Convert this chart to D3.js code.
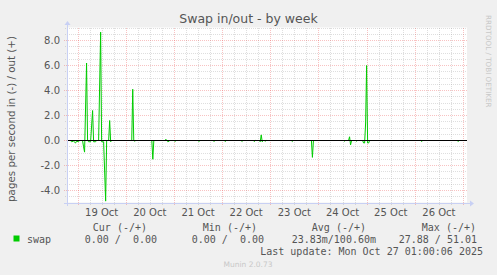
<!DOCTYPE html>
<html>
<head>
<meta charset="utf-8">
<script src="https://cdn.jsdelivr.net/npm/d3@7"></script>
<style>
  html, body { margin: 0; padding: 0; background: #f0f0f0; }
  svg { display: block; }
  text { font-family: "DejaVu Sans", sans-serif; fill: #555; }
  .mono { font-family: "DejaVu Sans Mono", monospace; font-size: 10px; white-space: pre; }
</style>
</head>
<body>
<div id="chart"></div>
<script>
// swap in (-) / out (+), pages per second, 30 min samples where it moved off zero
const swapTimes = [
  "2025-10-18T18:45", "2025-10-18T20:30", "2025-10-18T21:00", "2025-10-18T22:00", "2025-10-18T23:00",
  "2025-10-18T23:30", "2025-10-19T00:30", "2025-10-19T01:00", "2025-10-19T02:30", "2025-10-19T03:00",
  "2025-10-19T03:30", "2025-10-19T04:30", "2025-10-19T05:00", "2025-10-19T05:30", "2025-10-19T06:30",
  "2025-10-19T07:30", "2025-10-19T08:00", "2025-10-19T09:00", "2025-10-19T09:30", "2025-10-19T10:30",
  "2025-10-19T11:30", "2025-10-19T12:00", "2025-10-19T13:00", "2025-10-19T14:00", "2025-10-19T14:30",
  "2025-10-19T15:30", "2025-10-19T16:00", "2025-10-19T16:30", "2025-10-19T17:00", "2025-10-20T03:00",
  "2025-10-20T03:30", "2025-10-20T04:00", "2025-10-20T04:30", "2025-10-20T05:00", "2025-10-20T13:00",
  "2025-10-20T13:30", "2025-10-20T14:00", "2025-10-20T19:30", "2025-10-20T20:00", "2025-10-20T21:00",
  "2025-10-20T22:00", "2025-10-21T00:00", "2025-10-21T00:30", "2025-10-21T01:00", "2025-10-21T12:00",
  "2025-10-21T12:30", "2025-10-21T13:00", "2025-10-21T19:30", "2025-10-21T20:00", "2025-10-21T20:30",
  "2025-10-22T01:00", "2025-10-22T01:30", "2025-10-22T02:00", "2025-10-22T09:30", "2025-10-22T10:00",
  "2025-10-22T10:30", "2025-10-22T15:30", "2025-10-22T16:00", "2025-10-22T16:30", "2025-10-22T18:30",
  "2025-10-22T19:00", "2025-10-22T19:30", "2025-10-22T20:00", "2025-10-22T20:30", "2025-10-22T21:00",
  "2025-10-22T21:30", "2025-10-22T22:00", "2025-10-23T10:30", "2025-10-23T11:00", "2025-10-23T11:30",
  "2025-10-23T20:30", "2025-10-23T21:00", "2025-10-23T21:30", "2025-10-24T12:30", "2025-10-24T13:00",
  "2025-10-24T13:30", "2025-10-24T15:00", "2025-10-24T15:30", "2025-10-24T16:00", "2025-10-24T16:30",
  "2025-10-24T18:30", "2025-10-24T19:00", "2025-10-24T19:30", "2025-10-24T22:00", "2025-10-24T22:30",
  "2025-10-24T23:00", "2025-10-24T23:30", "2025-10-25T00:00", "2025-10-25T00:30", "2025-10-25T01:00",
  "2025-10-25T01:30", "2025-10-26T03:00", "2025-10-26T03:30", "2025-10-26T04:00", "2025-10-26T21:00",
  "2025-10-26T21:30", "2025-10-26T22:00", "2025-10-27T02:00"
];
const swapValues = [
  0, 0, -0.1, -0.05, -0.2,
  -0.05, -0.1, 0, 0, -0.5,
  -0.93, 6.2, 0, -0.1, -0.1,
  2.4, -0.1, -0.1, 0, 0,
  8.67, -0.1, -0.1, -4.85, 0,
  0, 1.6, -0.1, 0, 0,
  4.1, 0, -0.05, 0, 0,
  -1.5, 0, 0, 0.1, -0.1,
  0, 0, -0.08, 0, 0,
  -0.08, 0, 0, -0.08, 0,
  0, -0.08, 0, 0, -0.08,
  0, 0, -0.08, 0, 0,
  -0.1, 0.45, -0.1, 0, 0,
  -0.05, 0, 0, -0.08, 0,
  0, -1.35, 0, 0, -0.05,
  0, 0, 0.3, -0.35, 0,
  0, -0.05, 0, 0, -0.2,
  -0.2, 1.4, 6.0, -0.2, -0.2,
  0, 0, -0.08, 0, 0,
  -0.08, 0, 0
];

const yTicks = [-4, -2, 0, 2, 4, 6, 8];
const dayLabels = ["19 Oct", "20 Oct", "21 Oct", "22 Oct", "23 Oct", "24 Oct", "25 Oct", "26 Oct"];
const dayNoons = ["2025-10-19T12:00", "2025-10-20T12:00", "2025-10-21T12:00", "2025-10-22T12:00",
                  "2025-10-23T12:00", "2025-10-24T12:00", "2025-10-25T12:00", "2025-10-26T12:00"];

const legendHeaders = ["Cur (-/+)", "Min (-/+)", "Avg (-/+)", "Max (-/+)"];
const legendValues = ["0.00 /  0.00", "0.00 /  0.00", "23.83m/100.60m", "27.88 / 51.01"];
const lastUpdate = "Last update: Mon Oct 27 01:00:06 2025";

const W = 497, H = 275;
const plot = { left: 67, right: 467, top: 28, bottom: 203 };

const parse = d3.timeParse("%Y-%m-%dT%H:%M");
const data = swapTimes.map((t, i) => ({ t: parse(t), v: swapValues[i] }));

const x = d3.scaleTime()
  .domain([parse("2025-10-18T18:45"), parse("2025-10-27T02:00")])
  .range([plot.left, plot.right]);
const y = d3.scaleLinear().domain([-5, 9]).range([plot.bottom, plot.top]);

const svg = d3.select("#chart").append("svg").attr("width", W).attr("height", H);

svg.append("rect").attr("width", W).attr("height", H).attr("fill", "#f0f0f0");
svg.append("rect")
  .attr("x", plot.left).attr("y", plot.top - 0.5)
  .attr("width", plot.right - plot.left).attr("height", plot.bottom - plot.top)
  .attr("fill", "#ffffff");

const px = v => Math.round(v) + 0.5;
const py = v => Math.floor(v) + 0.5;

// grid: minor every 6 h and 0.5, major at midnight and every 2
const grid = svg.append("g");
const minorX = d3.timeHour.every(6).range(x.domain()[0], x.domain()[1]);
const majorX = d3.timeDay.range(x.domain()[0], x.domain()[1]);
const minorY = d3.range(-4.5, 9.01, 0.5).filter(v => v % 2 !== 0);
const minorColor = "rgba(160,160,160,0.35)";
const majorColor = "rgba(235,80,80,0.35)";

grid.selectAll(".vminor").data(minorX.filter(d => d.getHours() !== 0)).join("line")
  .attr("x1", d => px(x(d))).attr("x2", d => px(x(d)))
  .attr("y1", plot.top).attr("y2", plot.bottom + 2)
  .attr("stroke", minorColor).attr("stroke-dasharray", "1,1");
grid.selectAll(".hminor").data(minorY).join("line")
  .attr("x1", plot.left - 2).attr("x2", plot.right)
  .attr("y1", d => py(y(d))).attr("y2", d => py(y(d)))
  .attr("stroke", minorColor).attr("stroke-dasharray", "1,1");
grid.selectAll(".vmajor").data(majorX).join("line")
  .attr("x1", d => px(x(d))).attr("x2", d => px(x(d)))
  .attr("y1", plot.top).attr("y2", plot.bottom + 3)
  .attr("stroke", majorColor).attr("stroke-dasharray", "1,1");
grid.selectAll(".hmajor").data(yTicks).join("line")
  .attr("x1", plot.left - 3).attr("x2", plot.right)
  .attr("y1", d => py(y(d))).attr("y2", d => py(y(d)))
  .attr("stroke", majorColor).attr("stroke-dasharray", "1,1");

// series
const line = d3.line().x(d => x(d.t)).y(d => y(d.v));
svg.append("path").datum(data)
  .attr("fill", "none").attr("stroke", "#00cc00").attr("stroke-width", 1)
  .attr("d", line);

// zero line
svg.append("line")
  .attr("x1", plot.left).attr("x2", plot.right)
  .attr("y1", py(y(0))).attr("y2", py(y(0)))
  .attr("stroke", "#000").attr("stroke-width", 1);

// axes with arrows
const axisColor = "#c8d0f4";
const by = py(plot.bottom);
svg.append("line").attr("x1", plot.left - 3).attr("x2", plot.right + 3)
  .attr("y1", by).attr("y2", by).attr("stroke", axisColor);
svg.append("line").attr("x1", px(plot.left)).attr("x2", px(plot.left))
  .attr("y1", plot.bottom + 3).attr("y2", plot.top - 3).attr("stroke", axisColor);
svg.append("path")
  .attr("d", `M${plot.right + 3},${by - 3}L${plot.right + 7},${by}L${plot.right + 3},${by + 3}Z`)
  .attr("fill", axisColor);
svg.append("path")
  .attr("d", `M${px(plot.left) - 3},${plot.top - 3}L${px(plot.left)},${plot.top - 7}L${px(plot.left) + 3},${plot.top - 3}Z`)
  .attr("fill", axisColor);

// tick labels
svg.selectAll(".ylab").data(yTicks).join("text")
  .attr("x", 60).attr("y", d => y(d) + 3.5)
  .attr("text-anchor", "end").attr("font-size", 10)
  .text(d => d.toFixed(1));
svg.selectAll(".xlab").data(dayNoons).join("text")
  .attr("x", d => x(parse(d))).attr("y", 216)
  .attr("text-anchor", "middle").attr("font-size", 10)
  .text((d, i) => dayLabels[i]);

// titles
svg.append("text").attr("x", 248.5).attr("y", 23)
  .attr("text-anchor", "middle").attr("font-size", 12.5)
  .text("Swap in/out - by week");
svg.append("text")
  .attr("transform", "translate(15,119) rotate(-90)")
  .attr("text-anchor", "middle").attr("font-size", 10.3)
  .text("pages per second in (-) / out (+)");
svg.append("text")
  .attr("transform", "translate(486,15) rotate(90)")
  .attr("font-size", 7.2).style("fill", "#c8c8c8")
  .text("RRDTOOL / TOBI OETIKER");

// legend
svg.append("rect").attr("x", 13.5).attr("y", 235.5).attr("width", 6).attr("height", 6)
  .attr("fill", "#00cc00");
svg.append("text").attr("class", "mono").attr("x", 27).attr("y", 243).text("swap");
const headerRight = [147, 257, 366, 476];
const valueRight = [157, 264, 376, 477];
svg.selectAll(".lh").data(legendHeaders).join("text")
  .attr("class", "mono").attr("text-anchor", "end")
  .attr("x", (d, i) => headerRight[i]).attr("y", 231).text(d => d);
svg.selectAll(".lv").data(legendValues).join("text")
  .attr("class", "mono").attr("text-anchor", "end")
  .attr("x", (d, i) => valueRight[i]).attr("y", 243).text(d => d);
svg.append("text").attr("class", "mono").attr("text-anchor", "end")
  .attr("x", 483).attr("y", 255).text(lastUpdate);
svg.append("text").attr("x", 248).attr("y", 267)
  .attr("text-anchor", "middle").attr("font-size", 7.5).style("fill", "#c8c8c8")
  .text("Munin 2.0.73");
</script>
</body>
</html>
